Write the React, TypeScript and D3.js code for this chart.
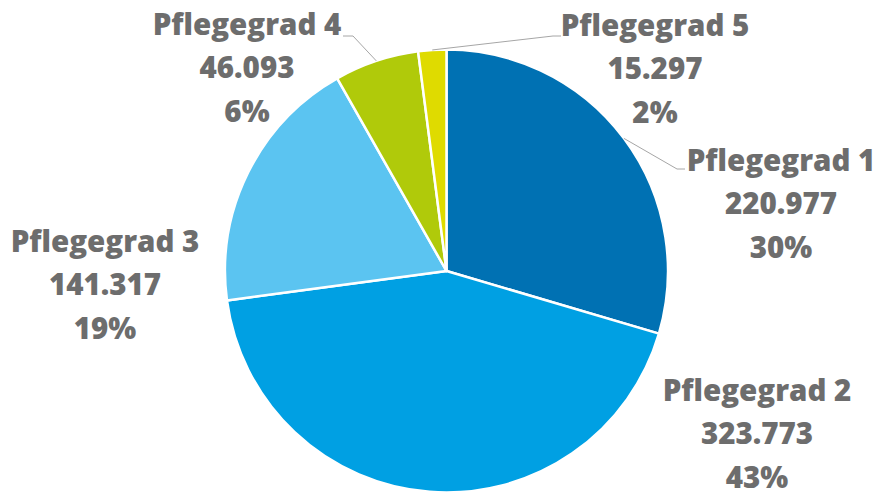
import React from "react";
import * as d3 from "d3";

const categories = ["Pflegegrad 1", "Pflegegrad 2", "Pflegegrad 3", "Pflegegrad 4", "Pflegegrad 5"];
const values = [220977, 323773, 141317, 46093, 15297];
const colors = ["#0071b3", "#00a0e3", "#5bc4f1", "#b0ca0a", "#dfdb00"];

// layout (label anchors: center x, first baseline y) and leader elbows
const labelPos: [number, number][] = [
  [781, 171],
  [757, 401],
  [105, 252],
  [247, 35],
  [655, 36],
];
const leaderEnds: ([number, number][] | null)[] = [
  [[677, 169], [685, 169]],
  null,
  null,
  [[353, 36], [343, 36]],
  [[553, 36], [561, 36]],
];

const W = 877;
const H = 492;
const cx = 446.5;
const cy = 271;
const R = 221.5;
const lineGap = 43.3;

const de = d3.formatLocale({ decimal: ",", thousands: ".", grouping: [3], currency: ["", "€"] });
const fmt = de.format(",d");

export default function App() {
  const total = d3.sum(values);
  const pie = d3.pie<number>().sort(null).value((d) => d);
  const arcs = pie(values);
  const arc = d3.arc<d3.PieArcDatum<number>>().innerRadius(0).outerRadius(R);

  return (
    <svg
      width={W}
      height={H}
      style={{ position: "absolute", left: 0, top: 0, background: "#fff" }}
      fontFamily="'Open Sans', Lato, sans-serif"
    >
      <g transform={`translate(${cx},${cy})`}>
        {arcs.map((a, i) => (
          <path key={i} d={arc(a) || ""} fill={colors[i]} stroke="#fff" strokeWidth={2.5} strokeLinejoin="round" />
        ))}
      </g>
      {arcs.map((a, i) => {
        const ends = leaderEnds[i];
        if (!ends) return null;
        const mid = (a.startAngle + a.endAngle) / 2;
        const sx = cx + R * Math.sin(mid);
        const sy = cy - R * Math.cos(mid);
        const pts: [number, number][] = [[sx, sy], ...ends];
        return (
          <path key={"l" + i} d={d3.line()(pts) || ""} fill="none" stroke="#a6a6a6" strokeWidth={1} />
        );
      })}
      {arcs.map((a, i) => {
        const [x, y] = labelPos[i];
        const lines = [categories[i], fmt(values[i]), Math.round((values[i] / total) * 100) + "%"];
        return (
          <text key={"t" + i} x={x} y={y} textAnchor="middle" fill="#6d6d6d" fontWeight={800} fontSize={29.5}>
            {lines.map((t, j) => (
              <tspan key={j} x={x} y={y + j * lineGap}>
                {t}
              </tspan>
            ))}
          </text>
        );
      })}
    </svg>
  );
}
